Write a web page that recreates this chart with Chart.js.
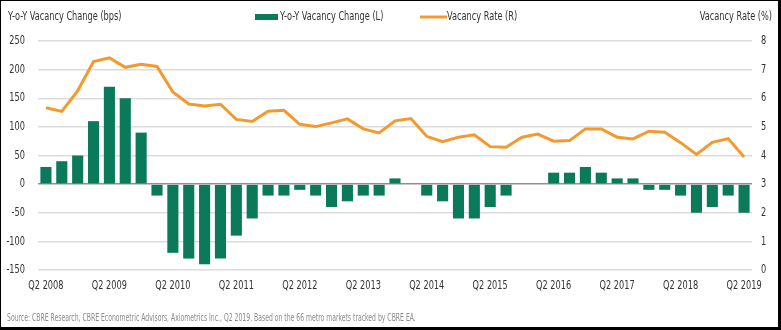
<!DOCTYPE html>
<html>
<head>
<meta charset="utf-8">
<script src="https://cdn.jsdelivr.net/npm/chart.js@4/dist/chart.umd.min.js"></script>
<style>
  html, body { margin: 0; padding: 0; background: #fff; }
  #wrap {
    width: 781px; height: 330px; box-sizing: border-box;
    border-left: 1px solid #000; border-top: 1px solid #000;
    border-right: 3px solid #000; border-bottom: 3px solid #000;
    background: #fff;
  }
  canvas { display: block; }
</style>
</head>
<body>
<div id="wrap"><canvas id="vacancyChart" width="777" height="326"></canvas></div>
<script>
const FONT = '"DejaVu Sans Condensed", "Liberation Sans", sans-serif';
const SQUEEZE = 0.76;         // horizontal squeeze for titles, legend and ticks
const NOTE_SQUEEZE = 0.68;    // tighter squeeze for the source line

// quarters Q2 2008 .. Q2 2019
const quarters = [
  'Q2 2008', 'Q3 2008', 'Q4 2008', 'Q1 2009', 'Q2 2009', 'Q3 2009', 'Q4 2009', 'Q1 2010',
  'Q2 2010', 'Q3 2010', 'Q4 2010', 'Q1 2011', 'Q2 2011', 'Q3 2011', 'Q4 2011', 'Q1 2012',
  'Q2 2012', 'Q3 2012', 'Q4 2012', 'Q1 2013', 'Q2 2013', 'Q3 2013', 'Q4 2013', 'Q1 2014',
  'Q2 2014', 'Q3 2014', 'Q4 2014', 'Q1 2015', 'Q2 2015', 'Q3 2015', 'Q4 2015', 'Q1 2016',
  'Q2 2016', 'Q3 2016', 'Q4 2016', 'Q1 2017', 'Q2 2017', 'Q3 2017', 'Q4 2017', 'Q1 2018',
  'Q2 2018', 'Q3 2018', 'Q4 2018', 'Q1 2019', 'Q2 2019'
];

// year-over-year change in vacancy, basis points
const vacancyChange = [
  30, 40, 50, 110, 170, 150, 90, -20,
  -120, -130, -140, -130, -90, -60, -20, -20,
  -10, -20, -40, -30, -20, -20, 10, 0,
  -20, -30, -60, -60, -40, -20, 0, 0,
  20, 20, 30, 20, 10, 10, -10, -10,
  -20, -50, -40, -20, -50
];

// vacancy rate, percent
const vacancyRate = [
  5.67, 5.54, 6.26, 7.28, 7.41, 7.08, 7.19, 7.11,
  6.22, 5.80, 5.73, 5.79, 5.26, 5.19, 5.55, 5.58,
  5.09, 5.01, 5.14, 5.28, 4.93, 4.79, 5.21, 5.29,
  4.67, 4.48, 4.64, 4.72, 4.31, 4.29, 4.64, 4.75,
  4.50, 4.52, 4.93, 4.93, 4.64, 4.58, 4.85, 4.81,
  4.45, 4.04, 4.46, 4.59, 3.95
];

const leftTitle = 'Y-o-Y Vacancy Change (bps)';
const rightTitle = 'Vacancy Rate (%)';
const sourceNote = 'Source: CBRE Research, CBRE Econometric Advisors, Axiometrics Inc., Q2 2019. Based on the 66 metro markets tracked by CBRE EA.';

const GREEN = '#0a7a5b';
const ORANGE = '#f39a2e';
const TEXT = '#333';

// fillText with a horizontal squeeze; align is 'left', 'center' or 'right'
function squeezedText(ctx, text, x, y, align, squeeze = SQUEEZE) {
  const w = ctx.measureText(text).width * squeeze;
  let left = x;
  if (align === 'right') left = x - w;
  if (align === 'center') left = x - w / 2;
  ctx.save();
  ctx.translate(left, y);
  ctx.scale(squeeze, 1);
  ctx.textAlign = 'left';
  ctx.fillText(text, 0, 0);
  ctx.restore();
}

// condensed tick labels, placed from the chart's own scales
const tickLabels = {
  id: 'tickLabels',
  afterDraw(chart) {
    const { ctx, scales } = chart;
    const { x, y, y1 } = scales;
    ctx.save();
    ctx.font = '12px ' + FONT;
    ctx.fillStyle = TEXT;
    ctx.textBaseline = 'middle';
    y.ticks.forEach((t) => {
      squeezedText(ctx, String(t.value), y.right - 13, y.getPixelForValue(t.value), 'right');
    });
    y1.ticks.forEach((t) => {
      squeezedText(ctx, String(t.value), y1.left + 9, y1.getPixelForValue(t.value), 'left');
    });
    x.ticks.forEach((t, i) => {
      if (i % 4 !== 0) return;
      squeezedText(ctx, quarters[i], x.getPixelForTick(i), y.bottom + 16, 'center');
    });
    ctx.restore();
  }
};

// axis titles, legend and source line
const annotations = {
  id: 'annotations',
  afterDraw(chart) {
    const ctx = chart.ctx;
    const [rateSet, changeSet] = chart.data.datasets;
    ctx.save();
    ctx.textBaseline = 'middle';
    ctx.fillStyle = TEXT;
    ctx.font = '12px ' + FONT;
    squeezedText(ctx, leftTitle, 7, 16, 'left');
    squeezedText(ctx, rightTitle, 771, 16, 'right');

    // legend: bar swatch then line swatch
    ctx.fillStyle = changeSet.backgroundColor;
    ctx.fillRect(254, 13, 23, 6);
    ctx.fillStyle = TEXT;
    squeezedText(ctx, changeSet.label, 279, 16, 'left');
    ctx.strokeStyle = rateSet.borderColor;
    ctx.lineWidth = 3;
    ctx.beginPath();
    ctx.moveTo(419, 16);
    ctx.lineTo(446, 16);
    ctx.stroke();
    squeezedText(ctx, rateSet.label, 446, 16, 'left');

    ctx.font = '10px ' + FONT;
    ctx.fillStyle = '#8a8a8a';
    squeezedText(ctx, sourceNote, 6, 317, 'left', NOTE_SQUEEZE);
    ctx.restore();
  }
};

const ctx = document.getElementById('vacancyChart').getContext('2d');
new Chart(ctx, {
  type: 'bar',
  data: {
    labels: quarters,
    datasets: [
      {
        type: 'line',
        label: 'Vacancy Rate (R)',
        data: vacancyRate,
        yAxisID: 'y1',
        borderColor: ORANGE,
        backgroundColor: ORANGE,
        borderWidth: 3,
        pointRadius: 0,
        tension: 0,
        order: 0
      },
      {
        label: 'Y-o-Y Vacancy Change (L)',
        data: vacancyChange,
        yAxisID: 'y',
        backgroundColor: GREEN,
        categoryPercentage: 1,
        barPercentage: 0.7,
        order: 1
      }
    ]
  },
  options: {
    responsive: false,
    animation: false,
    layout: { padding: { left: 4, right: 10, top: 40, bottom: 35 } },
    plugins: {
      legend: { display: false },
      tooltip: { enabled: false }
    },
    scales: {
      x: {
        grid: { display: false, drawTicks: false },
        border: { display: false },
        ticks: { display: false, autoSkip: false },
        afterFit(scale) {
          scale.paddingLeft = 0;
          scale.paddingRight = 0;
          scale.height = 22;
        }
      },
      y: {
        position: 'left',
        min: -150,
        max: 250,
        border: { display: false },
        grid: {
          drawTicks: false,
          lineWidth: 1.5,
          color: (c) => c.tick && c.tick.value === 0 ? '#8f8f8f' : '#dcdcdc'
        },
        ticks: { display: false, stepSize: 50 },
        afterFit(scale) { scale.width = 33; }
      },
      y1: {
        position: 'right',
        min: 0,
        max: 8,
        border: { display: false },
        grid: { drawOnChartArea: false, drawTicks: false },
        ticks: { display: false, stepSize: 1 },
        afterFit(scale) { scale.width = 16; }
      }
    }
  },
  plugins: [tickLabels, annotations]
});
</script>
</body>
</html>
